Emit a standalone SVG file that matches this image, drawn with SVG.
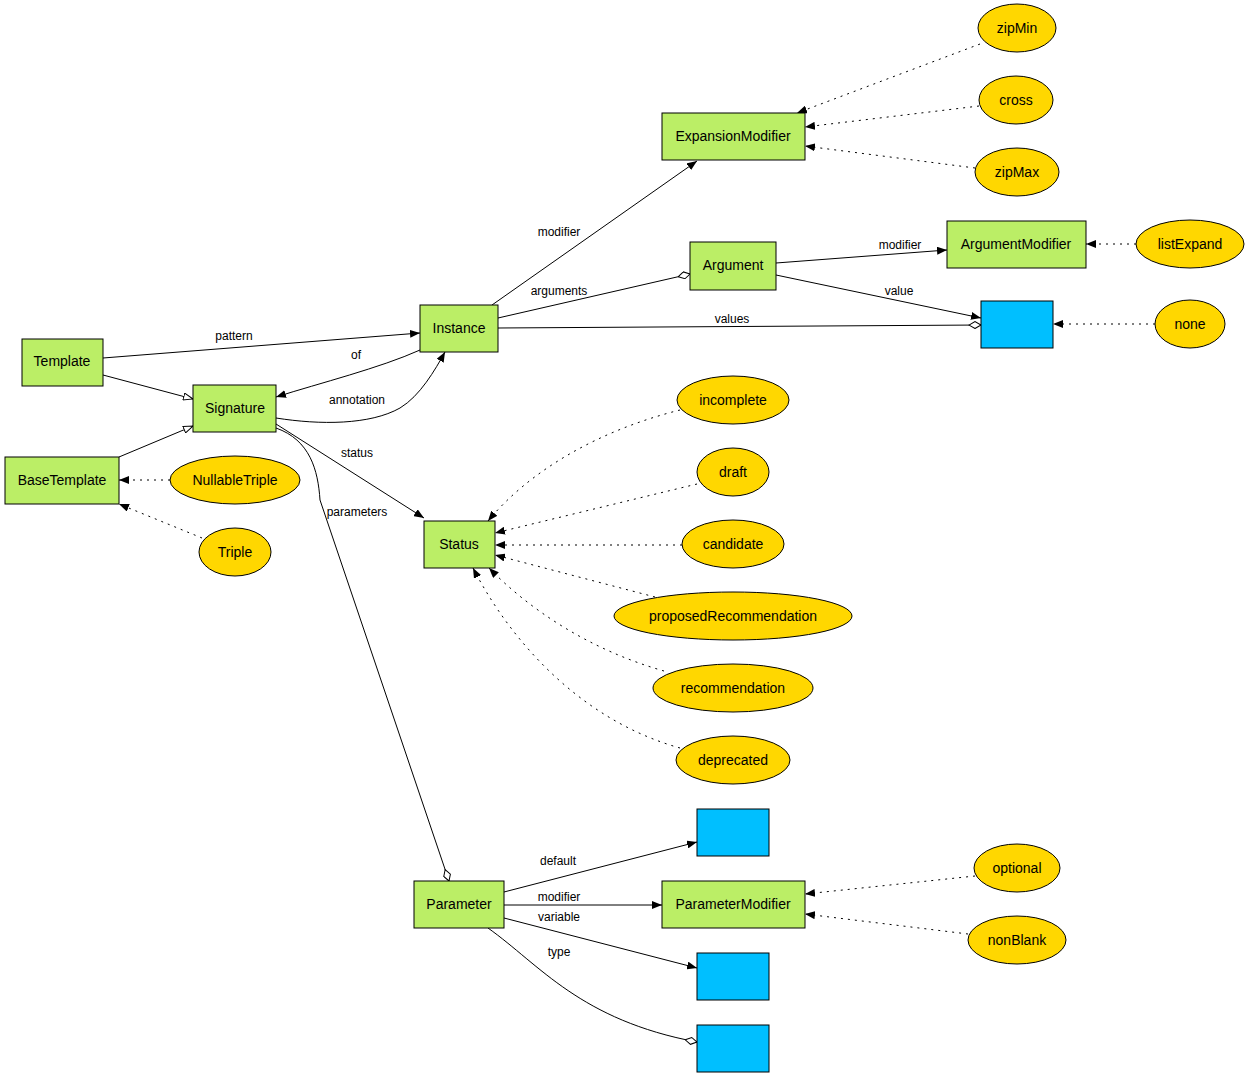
<svg xmlns="http://www.w3.org/2000/svg" width="1250" height="1079" viewBox="0 0 1250 1079">
<style>
.n{fill:#bbee66;stroke:#000;stroke-width:1}
.b{fill:#00bfff;stroke:#000;stroke-width:1}
.e{fill:#ffd700;stroke:#000;stroke-width:1}
text{font-family:"Liberation Sans",Arial,sans-serif;font-size:14px;text-anchor:middle}
.l{font-size:12px}
.c path{fill:none;stroke:#000;stroke-width:1}
.c .d{stroke-dasharray:2,5}
</style>
<defs>
<marker id="a" viewBox="0 0 10 8" refX="10" refY="4" markerWidth="10" markerHeight="8" orient="auto" markerUnits="userSpaceOnUse"><path d="M0,0L10,4L0,8z" fill="#000"/></marker>
<marker id="h" viewBox="0 0 11 8" refX="10" refY="4" markerWidth="11" markerHeight="8" orient="auto" markerUnits="userSpaceOnUse"><path d="M0.5,0.5L10,4L0.5,7.5z" fill="#fff" stroke="#000"/></marker>
<marker id="o" viewBox="0 0 13 8" refX="12.5" refY="4" markerWidth="13" markerHeight="8" orient="auto" markerUnits="userSpaceOnUse"><path d="M0.5,4L6.5,0.5L12.5,4L6.5,7.5z" fill="#fff" stroke="#000"/></marker>
</defs>
<rect width="1250" height="1079" fill="#fff"/>
<g class="c" id="connectors">
<path d="M103,358L420,333" marker-end="url(#a)"/>
<path d="M103,375L193,399" marker-end="url(#h)"/>
<path d="M119,457L193,426" marker-end="url(#h)"/>
<path d="M420,350C380,368 320,383 276,397" marker-end="url(#a)"/>
<path d="M276,418C320,425 370,425 400,408C420,396 435,370 445,352" marker-end="url(#a)"/>
<path d="M492,305L697,161" marker-end="url(#a)"/>
<path d="M498,318L690,274" marker-end="url(#o)"/>
<path d="M498,328L981,325" marker-end="url(#o)"/>
<path d="M776,263L947,250" marker-end="url(#a)"/>
<path d="M776,275L981,318" marker-end="url(#a)"/>
<path d="M276,424L424,518" marker-end="url(#a)"/>
<path d="M276,428C310,440 318,470 320,500L449,881" marker-end="url(#o)"/>
<path d="M504,892L697,842" marker-end="url(#a)"/>
<path d="M504,905L662,905" marker-end="url(#a)"/>
<path d="M504,918L697,968" marker-end="url(#a)"/>
<path d="M488,928C540,965 580,1020 697,1042" marker-end="url(#o)"/>
<path class="d" d="M980,44L797,113" marker-end="url(#a)"/>
<path class="d" d="M979,106L805,127" marker-end="url(#a)"/>
<path class="d" d="M975,168L805,146" marker-end="url(#a)"/>
<path class="d" d="M1136,244L1086,244" marker-end="url(#a)"/>
<path class="d" d="M1155,324L1053,324" marker-end="url(#a)"/>
<path class="d" d="M170,480L119,480" marker-end="url(#a)"/>
<path class="d" d="M202,538L119,504" marker-end="url(#a)"/>
<path class="d" d="M680,410C600,430 530,470 488,521" marker-end="url(#a)"/>
<path class="d" d="M697,484L495,533" marker-end="url(#a)"/>
<path class="d" d="M682,545L495,545" marker-end="url(#a)"/>
<path class="d" d="M655,597L495,555" marker-end="url(#a)"/>
<path class="d" d="M664,671C590,650 530,610 489,568" marker-end="url(#a)"/>
<path class="d" d="M680,748C580,720 510,640 473,568" marker-end="url(#a)"/>
<path class="d" d="M975,876L805,894" marker-end="url(#a)"/>
<path class="d" d="M968,934L805,914" marker-end="url(#a)"/>
<text class="l" x="234" y="340">pattern</text>
<text class="l" x="356" y="359">of</text>
<text class="l" x="357" y="404">annotation</text>
<text class="l" x="559" y="236">modifier</text>
<text class="l" x="559" y="295">arguments</text>
<text class="l" x="732" y="323">values</text>
<text class="l" x="900" y="249">modifier</text>
<text class="l" x="899" y="295">value</text>
<text class="l" x="357" y="457">status</text>
<text class="l" x="357" y="516">parameters</text>
<text class="l" x="558" y="865">default</text>
<text class="l" x="559" y="901">modifier</text>
<text class="l" x="559" y="921">variable</text>
<text class="l" x="559" y="956">type</text>
</g>
<g id="Template"><rect class="n" x="22" y="339" width="81" height="47"/><text x="62" y="366">Template</text></g>
<g id="Signature"><rect class="n" x="193" y="385" width="83" height="47"/><text x="235" y="413">Signature</text></g>
<g id="BaseTemplate"><rect class="n" x="5" y="457" width="114" height="47"/><text x="62" y="485">BaseTemplate</text></g>
<g id="Instance"><rect class="n" x="420" y="305" width="78" height="47"/><text x="459" y="333">Instance</text></g>
<g id="ExpansionModifier"><rect class="n" x="662" y="113" width="143" height="47"/><text x="733" y="141">ExpansionModifier</text></g>
<g id="Argument"><rect class="n" x="690" y="242" width="86" height="48"/><text x="733" y="270">Argument</text></g>
<g id="ArgumentModifier"><rect class="n" x="947" y="221" width="139" height="47"/><text x="1016" y="249">ArgumentModifier</text></g>
<g id="Values"><rect class="b" x="981" y="301" width="72" height="47"/></g>
<g id="Status"><rect class="n" x="424" y="521" width="71" height="47"/><text x="459" y="549">Status</text></g>
<g id="Parameter"><rect class="n" x="414" y="881" width="90" height="47"/><text x="459" y="909">Parameter</text></g>
<g id="Default"><rect class="b" x="697" y="809" width="72" height="47"/></g>
<g id="ParameterModifier"><rect class="n" x="662" y="881" width="143" height="47"/><text x="733" y="909">ParameterModifier</text></g>
<g id="Variable"><rect class="b" x="697" y="953" width="72" height="47"/></g>
<g id="Type"><rect class="b" x="697" y="1025" width="72" height="47"/></g>
<g id="zipMin"><ellipse class="e" cx="1017" cy="28" rx="39" ry="24"/><text x="1017" y="33">zipMin</text></g>
<g id="cross"><ellipse class="e" cx="1016" cy="100" rx="37" ry="24"/><text x="1016" y="105">cross</text></g>
<g id="zipMax"><ellipse class="e" cx="1017" cy="172" rx="42" ry="24"/><text x="1017" y="177">zipMax</text></g>
<g id="listExpand"><ellipse class="e" cx="1190" cy="244" rx="54" ry="24"/><text x="1190" y="249">listExpand</text></g>
<g id="none"><ellipse class="e" cx="1190" cy="324" rx="35" ry="24"/><text x="1190" y="329">none</text></g>
<g id="incomplete"><ellipse class="e" cx="733" cy="400" rx="56" ry="24"/><text x="733" y="405">incomplete</text></g>
<g id="draft"><ellipse class="e" cx="733" cy="472" rx="36" ry="24"/><text x="733" y="477">draft</text></g>
<g id="candidate"><ellipse class="e" cx="733" cy="544" rx="51" ry="24"/><text x="733" y="549">candidate</text></g>
<g id="proposedRecommendation"><ellipse class="e" cx="733" cy="616" rx="119" ry="24"/><text x="733" y="621">proposedRecommendation</text></g>
<g id="recommendation"><ellipse class="e" cx="733" cy="688" rx="80" ry="24"/><text x="733" y="693">recommendation</text></g>
<g id="deprecated"><ellipse class="e" cx="733" cy="760" rx="57" ry="24"/><text x="733" y="765">deprecated</text></g>
<g id="NullableTriple"><ellipse class="e" cx="235" cy="480" rx="65" ry="24"/><text x="235" y="485">NullableTriple</text></g>
<g id="Triple"><ellipse class="e" cx="235" cy="552" rx="36" ry="24"/><text x="235" y="557">Triple</text></g>
<g id="optional"><ellipse class="e" cx="1017" cy="868" rx="43" ry="24"/><text x="1017" y="873">optional</text></g>
<g id="nonBlank"><ellipse class="e" cx="1017" cy="940" rx="49" ry="24"/><text x="1017" y="945">nonBlank</text></g>
</svg>
